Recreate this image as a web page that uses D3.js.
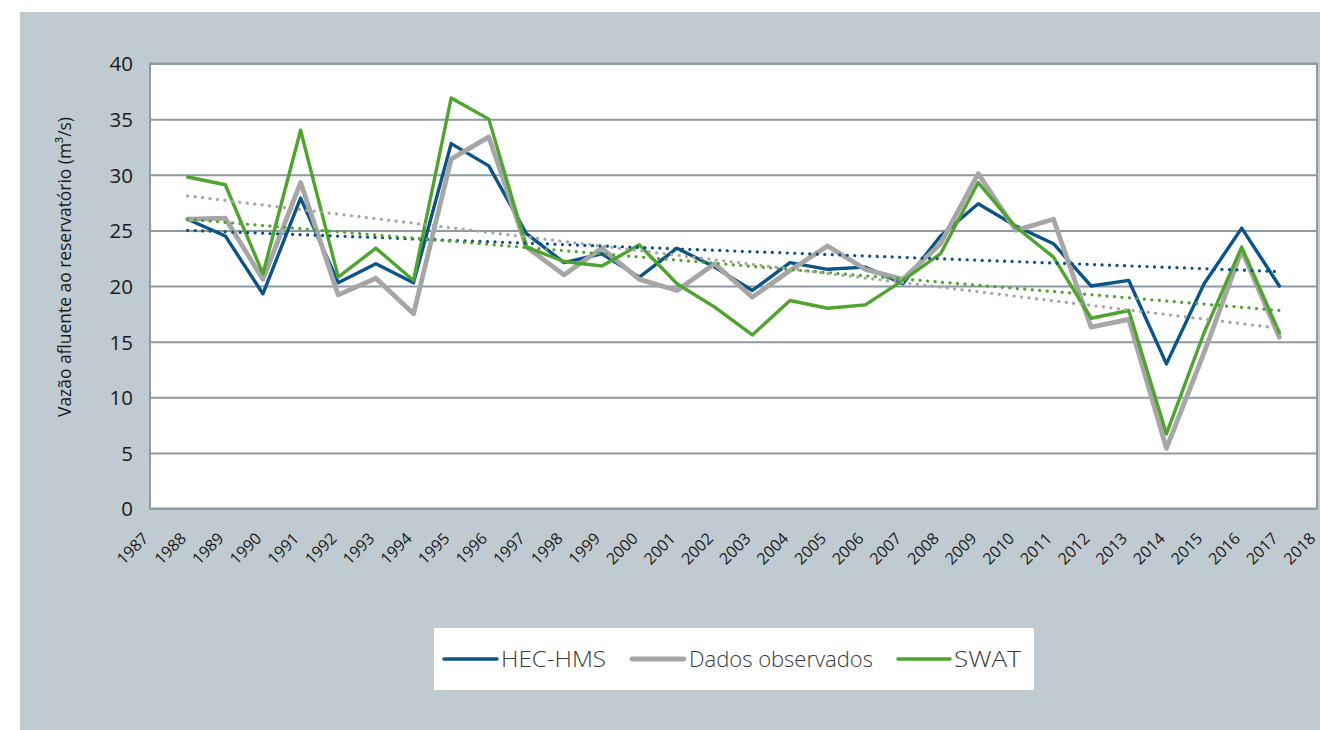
<!DOCTYPE html>
<html>
<head>
<meta charset="utf-8">
<script src="https://cdn.jsdelivr.net/npm/d3@7/dist/d3.min.js"></script>
<style>
  html, body { margin: 0; padding: 0; background: #ffffff; }
  svg { display: block; }
</style>
</head>
<body>
<svg id="chart" width="1320" height="730"></svg>
<script>
// ---- Data ----
const years = [1988,1989,1990,1991,1992,1993,1994,1995,1996,1997,1998,1999,2000,2001,2002,2003,2004,2005,2006,2007,2008,2009,2010,2011,2012,2013,2014,2015,2016,2017];
const hecHms = [26.0,24.5,19.3,27.9,20.3,22.0,20.3,32.8,30.8,24.7,22.1,22.9,20.8,23.4,21.7,19.6,22.1,21.5,21.7,20.2,24.5,27.4,25.4,23.8,20.0,20.5,13.0,20.2,25.2,20.0];
const observados = [26.0,26.1,20.6,29.3,19.2,20.7,17.5,31.4,33.4,23.5,21.0,23.4,20.6,19.6,22.0,19.0,21.4,23.6,21.5,20.6,23.8,30.1,25.0,26.0,16.3,17.0,5.4,14.0,23.2,15.4];
const swat = [29.8,29.1,21.1,34.0,20.8,23.4,20.5,36.9,35.0,23.5,22.2,21.8,23.7,20.2,18.1,15.6,18.7,18.0,18.3,20.5,22.9,29.3,25.3,22.6,17.1,17.8,6.7,15.8,23.5,15.8];
const seriesNames = ["HEC-HMS", "Dados observados", "SWAT"];
// linear trend lines as drawn in the picture (value at first year, value at last year), by colour
const trendHecHms = [25.0, 21.3];
const trendObservados = [28.1, 16.2];
const trendSwat = [26.0, 17.8];
const xTickLabels = [1987,1988,1989,1990,1991,1992,1993,1994,1995,1996,1997,1998,1999,2000,2001,2002,2003,2004,2005,2006,2007,2008,2009,2010,2011,2012,2013,2014,2015,2016,2017,2018];
const yTickLabels = [0,5,10,15,20,25,30,35,40];
const yTitle = "Vazão afluente ao reservatório (m³/s)";

// ---- Layout ----
const svg = d3.select("#chart");
const L = 150, R = 1317, T = 63.5, B = 508.5;
const colors = ["#0c5387", "#a6a6a6", "#4ea42e"];
const widths = [3.4, 4.8, 3.4];

svg.append("rect").attr("x", 20).attr("y", 12).attr("width", 1300).attr("height", 718).attr("fill", "#c0cbd1");
svg.append("rect").attr("x", L).attr("y", T).attr("width", R - L).attr("height", B - T).attr("fill", "#ffffff");

const x = d3.scaleLinear().domain([1987, 2018]).range([L, R]);
const y = d3.scaleLinear().domain([0, 40]).range([B, T]);

// grid
const yAxis = d3.axisLeft(y).tickValues(yTickLabels).tickSize(-(R - L)).tickFormat(d3.format("d"));
const gy = svg.append("g").attr("transform", `translate(${L},0)`).call(yAxis);
gy.select(".domain").remove();
gy.selectAll(".tick line").attr("stroke", "#8d9aa3").attr("stroke-width", 2);
gy.selectAll(".tick text").attr("x", -17).attr("dy", "0.36em")
  .attr("font-family", "'Open Sans', sans-serif").attr("font-size", 20.5).attr("fill", "#1a1a1a");

// plot border
svg.append("rect").attr("x", L).attr("y", T).attr("width", R - L).attr("height", B - T)
  .attr("fill", "none").attr("stroke", "#8d9aa3").attr("stroke-width", 2);

// x axis labels
const xAxis = d3.axisBottom(x).tickValues(xTickLabels).tickSize(0).tickFormat(d3.format("d"));
const gx = svg.append("g").attr("transform", `translate(0,${B})`).call(xAxis);
gx.select(".domain").remove();
gx.selectAll(".tick text")
  .attr("font-family", "'Open Sans', sans-serif").attr("font-size", 16).attr("fill", "#1a1a1a")
  .attr("text-anchor", "end").attr("dy", 0).attr("y", 0)
  .attr("transform", "translate(-1,31) rotate(-45)");

// y title
svg.append("text")
  .attr("transform", `translate(71,${(117 + 417) / 2}) rotate(-90)`)
  .attr("text-anchor", "middle")
  .attr("font-family", "'Open Sans', sans-serif").attr("font-size", 18.5).attr("fill", "#1a1a1a")
  .attr("textLength", 300).attr("lengthAdjust", "spacingAndGlyphs")
  .text(yTitle);

// series
const allSeries = [hecHms, observados, swat];
const line = d3.line().x((d, i) => x(years[i])).y(d => y(d));
allSeries.forEach((vals, k) => {
  svg.append("path").datum(vals).attr("d", line)
    .attr("fill", "none").attr("stroke", colors[k]).attr("stroke-width", widths[k])
    .attr("stroke-linejoin", "round").attr("stroke-linecap", "round");
});

// trend lines
const trends = [trendHecHms, trendObservados, trendSwat];
[0, 2, 1].forEach(k => {
  const t = trends[k];
  svg.append("line")
    .attr("x1", x(years[0])).attr("y1", y(t[0]))
    .attr("x2", x(years[years.length - 1])).attr("y2", y(t[1]))
    .attr("stroke", colors[k]).attr("stroke-width", 3.2)
    .attr("stroke-dasharray", "0.1 7.4").attr("stroke-linecap", "round");
});

// legend
const lg = svg.append("g");
lg.append("rect").attr("x", 434).attr("y", 628).attr("width", 600).attr("height", 62).attr("fill", "#ffffff");
const legendPos = [[444, 497, 501, 105], [632, 684, 689, 184], [898, 950, 954, 67]];
seriesNames.forEach((name, k) => {
  const p = legendPos[k];
  lg.append("line").attr("x1", p[0]).attr("x2", p[1]).attr("y1", 659).attr("y2", 659)
    .attr("stroke", colors[k]).attr("stroke-width", k === 1 ? 4.8 : 3.6).attr("stroke-linecap", "round");
  lg.append("text").attr("x", p[2]).attr("y", 667)
    .attr("font-family", "'Open Sans', sans-serif").attr("font-weight", 300).attr("font-size", 22).attr("fill", "#3a3a3a")
    .attr("textLength", p[3]).attr("lengthAdjust", "spacingAndGlyphs")
    .text(name);
});
</script>
</body>
</html>
